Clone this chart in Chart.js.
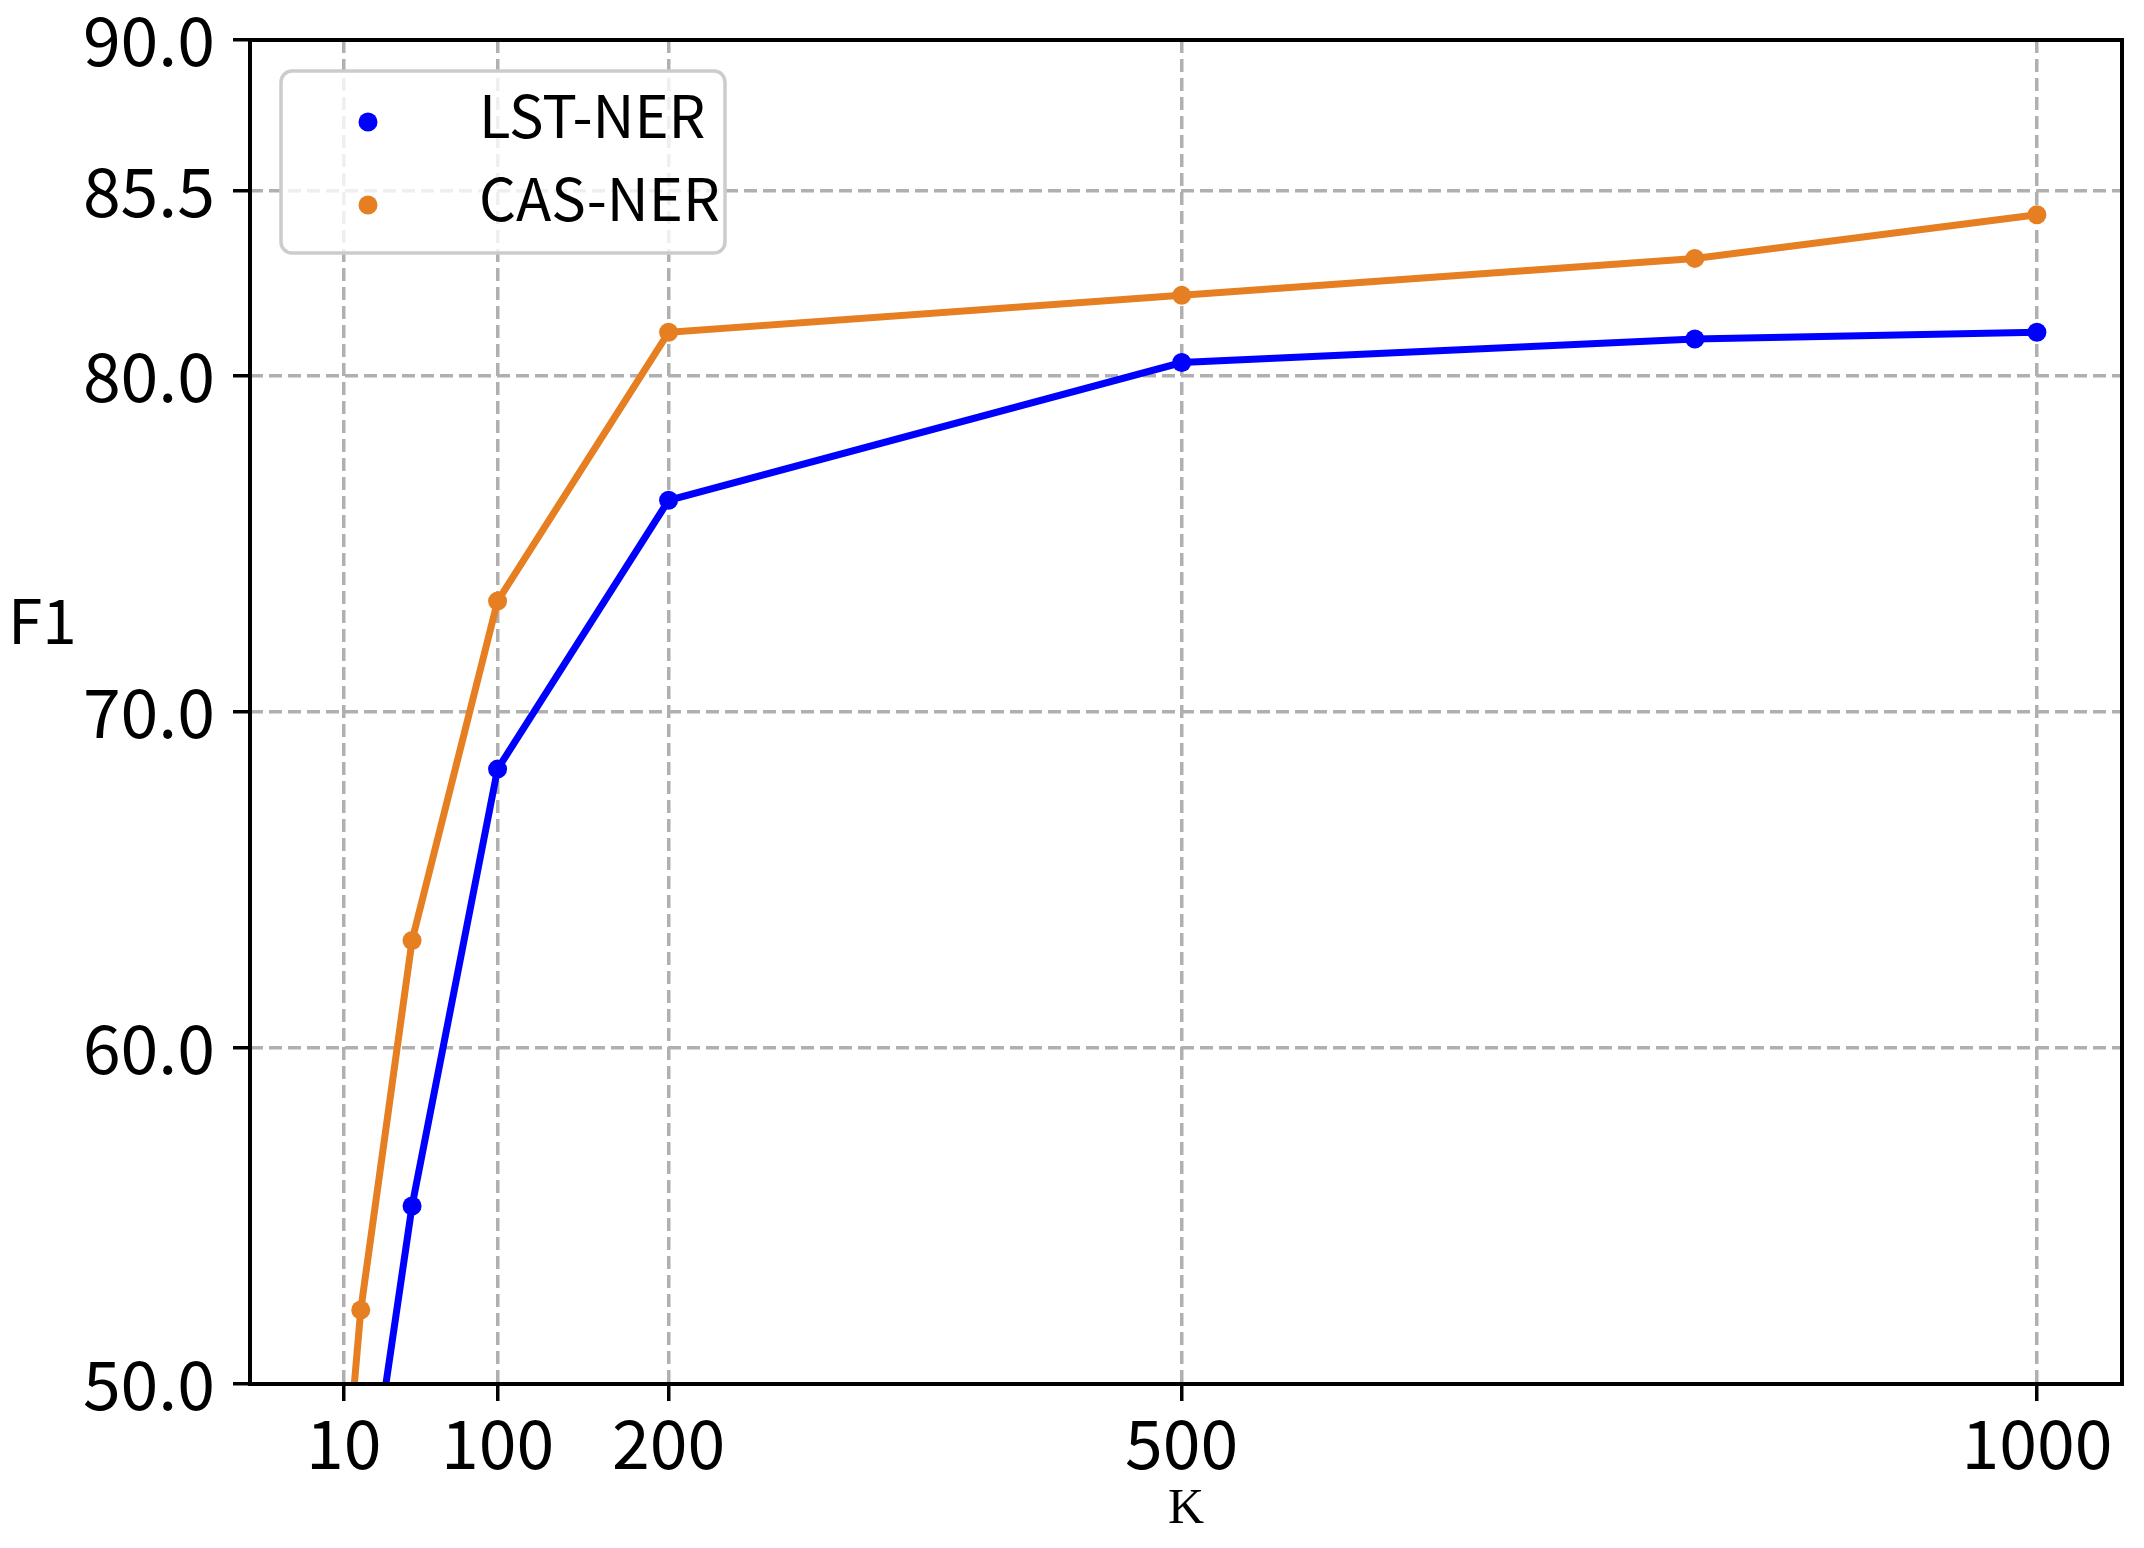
<!DOCTYPE html>
<html><head><meta charset="utf-8">
<script src="https://cdn.jsdelivr.net/npm/chart.js@4/dist/chart.umd.min.js"></script>
<style>html,body{margin:0;padding:0;background:#fff;}canvas{display:block;}</style>
</head><body>
<canvas id="c" width="2144" height="1548"></canvas>
<script>
const kValues = [5, 20, 50, 100, 200, 500, 800, 1000];
const lstNer = [36.0, 44.9, 55.3, 68.3, 76.3, 80.4, 81.1, 81.3];
const casNer = [43.4, 52.2, 63.2, 73.3, 81.3, 82.4, 83.5, 84.8];
const xTicks = [10, 100, 200, 500, 1000];
const yTicks = [50.0, 60.0, 70.0, 80.0, 85.5, 90.0];
const seriesNames = ['LST-NER', 'CAS-NER'];
const seriesColors = ['#0000ff', '#e67e22'];
const xTitle = 'K';
const yTitle = 'F1';

const TICK_FONT = '"Noto Sans CJK SC", "DejaVu Sans", sans-serif';

function mkSeries(vals, i) {
  return {
    label: seriesNames[i],
    data: kValues.map((k, j) => ({x: k, y: vals[j]})),
    borderColor: seriesColors[i],
    backgroundColor: seriesColors[i],
    pointBackgroundColor: seriesColors[i],
    pointBorderColor: seriesColors[i],
    borderWidth: 7,
    pointRadius: 9.5,
    pointBorderWidth: 0,
    tension: 0,
    fill: false,
    clip: 0
  };
}

const framePlugin = {
  id: 'frame',
  afterDraw(chart) {
    const {ctx, chartArea: a} = chart;
    ctx.save();
    ctx.setLineDash([]);
    ctx.strokeStyle = '#000';
    ctx.lineWidth = 4;
    ctx.strokeRect(a.left, a.top, a.right - a.left, a.bottom - a.top);

    ctx.fillStyle = '#000';
    ctx.font = '62px ' + TICK_FONT;
    ctx.textAlign = 'left';
    ctx.textBaseline = 'alphabetic';
    ctx.fillText(yTitle, 8, 644);

    const lx = a.left + 31, ly = a.top + 31, lw = 444, lh = 182;
    ctx.beginPath();
    ctx.roundRect(lx, ly, lw, lh, 11);
    ctx.fillStyle = 'rgba(255,255,255,0.8)';
    ctx.fill();
    ctx.strokeStyle = '#cccccc';
    ctx.lineWidth = 3.5;
    ctx.stroke();

    chart.data.datasets.forEach((ds, i) => {
      const cy = ly + 51 + i * 83;
      ctx.beginPath();
      ctx.arc(lx + 87, cy, 9.5, 0, Math.PI * 2);
      ctx.fillStyle = ds.borderColor;
      ctx.fill();
      ctx.fillStyle = '#000';
      ctx.font = '58px ' + TICK_FONT;
      ctx.textAlign = 'left';
      ctx.textBaseline = 'alphabetic';
      ctx.fillText(ds.label, lx + 198, cy + 16);
    });
    ctx.restore();
  }
};

new Chart(document.getElementById('c'), {
  type: 'line',
  data: { datasets: [mkSeries(lstNer, 0), mkSeries(casNer, 1)] },
  options: {
    responsive: false,
    devicePixelRatio: 1,
    animation: false,
    layout: { padding: { left: 0, top: 40, right: 22, bottom: 0 } },
    plugins: { legend: { display: false }, tooltip: { enabled: false } },
    scales: {
      x: {
        type: 'linear',
        min: -44.75,
        max: 1049.75,
        afterBuildTicks: s => { s.ticks = xTicks.map(v => ({value: v})); },
        afterFit: s => { s.height = 164; s.paddingLeft = 0; s.paddingRight = 0; },
        ticks: {
          callback: v => String(v),
          color: '#000',
          font: { family: TICK_FONT, size: 68 },
          padding: 1,
          maxRotation: 0,
          autoSkip: false
        },
        grid: {
          color: '#b0b0b0',
          lineWidth: 3.5,
          tickColor: '#000',
          tickWidth: 3.5,
          tickLength: 17,
          tickBorderDash: [],
          drawTicks: true
        },
        border: { display: false, dash: [13, 6] },
        title: {
          display: true,
          text: xTitle,
          color: '#000',
          font: { family: '"Liberation Serif", "Times New Roman", serif', size: 50, lineHeight: 1.2 },
          padding: { top: 0, bottom: 8 }
        }
      },
      y: {
        type: 'linear',
        min: 50,
        max: 90,
        afterBuildTicks: s => { s.ticks = yTicks.map(v => ({value: v})); },
        afterFit: s => { s.width = 250; s.paddingTop = 0; s.paddingBottom = 0; },
        ticks: {
          callback: v => Number(v).toFixed(1),
          color: '#000',
          font: { family: TICK_FONT, size: 68 },
          padding: 18,
          autoSkip: false
        },
        grid: {
          color: '#b0b0b0',
          lineWidth: 3.5,
          tickColor: '#000',
          tickWidth: 3.5,
          tickLength: 17,
          tickBorderDash: [],
          drawTicks: true
        },
        border: { display: false, dash: [13, 6] }
      }
    }
  },
  plugins: [framePlugin]
});
</script>
</body></html>
